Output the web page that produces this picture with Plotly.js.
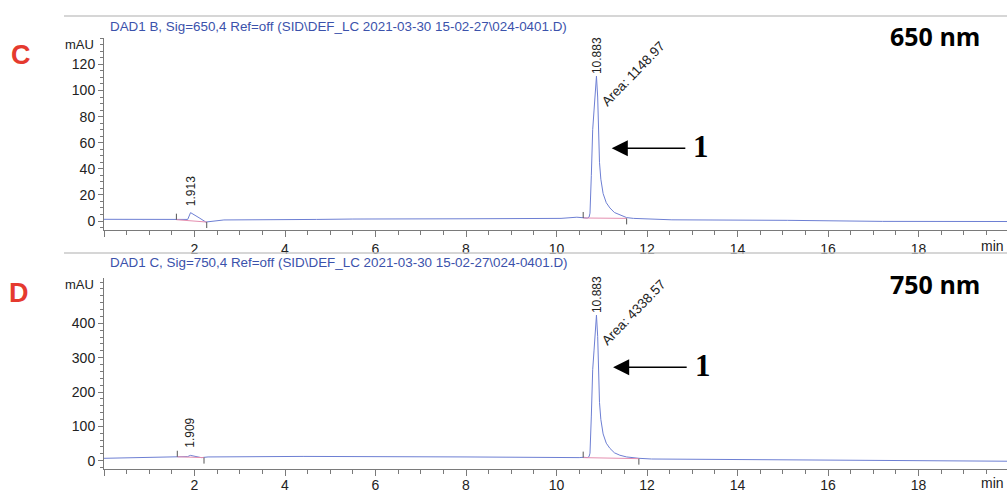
<!DOCTYPE html>
<html>
<head>
<meta charset="utf-8">
<script src="https://cdn.plot.ly/plotly-3.0.1.min.js"></script>
<style>
  html, body { margin: 0; padding: 0; background: #fff; overflow: hidden; }
  #chart { width: 1007px; height: 492px; }
</style>
</head>
<body>
<div id="chart"></div>
<script>
// ---- DAD1 B, 650 nm: retention time (min) / absorbance (mAU) ----
const timeB = [0, 0.55, 1.0, 1.5, 1.6, 1.85, 1.913, 1.98, 2.1, 2.25, 2.4, 2.65, 4.7, 5.5, 8.0, 10.1,
  10.45, 10.6, 10.68, 10.72, 10.74, 10.77, 10.80, 10.83, 10.86, 10.883, 10.91, 10.93, 10.95, 10.98,
  11.03, 11.10, 11.18, 11.28, 11.40, 11.55, 11.70, 12.0, 12.55, 15.1, 16.3, 17.2, 20];
const signalB = [1.3, 1.2, 0.9, 0.9, 1.0, 1.2, 6.4, 4.8, 2.5, -0.8, 0.0, 0.8, 1.2, 1.5, 1.7, 2.0,
  2.9, 2.5, 2.2, 3.0, 6, 35, 70, 85, 102, 111, 95, 70, 45, 32,
  21, 14, 10, 6.5, 4.6, 2.6, 2.0, 1.6, 0.9, 0.5, 0.0, -0.3, -0.4];

// ---- DAD1 C, 750 nm ----
const timeC = [0, 1.0, 1.6, 1.85, 1.909, 1.98, 2.15, 2.3, 4.4, 8.0, 9.5, 10.3, 10.5, 10.6, 10.68,
  10.72, 10.74, 10.77, 10.80, 10.83, 10.86, 10.883, 10.91, 10.93, 10.95, 10.98, 11.03, 11.10, 11.18,
  11.28, 11.40, 11.55, 11.70, 11.82, 12.1, 14.5, 16.5, 17.3, 20];
const signalC = [7, 10, 11.5, 12, 15.5, 13, 9, 11, 12.5, 11, 9, 8, 9, 10, 9,
  12, 22, 130, 265, 322, 387, 424, 362, 266, 170, 120, 78, 51, 36,
  23, 16, 11, 8, 7, 5, 3, 0.5, -1, -1.5];

// ---- integration results ----
const peakRtB = [1.913, 10.883];
const peakAreaB = [null, 1148.97];
const peakRtC = [1.909, 10.883];
const peakAreaC = [null, 4338.57];

// integration start/end events: time, level (mAU), marker direction
const eventTimeB = [1.60, 2.27, 10.59, 11.55];
const eventLevelB = [1.0, -0.8, 2.3, 2.0];
const eventTimeC = [1.62, 2.21, 10.59, 11.82];
const eventLevelC = [11.5, 9.0, 9.0, 6.0];
const eventDir = [1, -1, 1, -1];

// axis labels
const xTickVals = [0, 2, 4, 6, 8, 10, 12, 14, 16, 18];
const yTickValsB = [0, 20, 40, 60, 80, 100, 120];
const yTickValsC = [0, 100, 200, 300, 400];

// ---- geometry ----
const W = 1007, H = 492;
const ML = 104;
const PXPERMIN = 45.25;
const xMax = (W - ML) / PXPERMIN;
const rangeB = [-6.9, 140];
const rangeC = [-25, 532];
const domB = [1 - 230 / H, 1 - 38.3 / H];
const domC = [1 - 469.3 / H, 1 - 278 / H];

const FONT = 'Arial, "Liberation Sans", sans-serif';
const LINE = '#6d7fd3';
const PINK = '#e58fb0';
const AXIS = '#7a7a7a';
const TITLE_BLUE = '#3b52ab';

function unitsPerPx(range, dom) {
  return (range[1] - range[0]) / ((dom[1] - dom[0]) * H);
}

function steps(a, b, s) {
  const out = [];
  for (let v = a; v <= b + 1e-9; v += s) out.push(+v.toFixed(3));
  return out;
}

function baselineTrace(times, levels, xa, ya) {
  return {
    x: [times[0], times[1], null, times[2], times[3]],
    y: [levels[0], levels[1], null, levels[2], levels[3]],
    xaxis: xa, yaxis: ya, mode: 'lines', hoverinfo: 'skip',
    line: { color: PINK, width: 1 }, showlegend: false
  };
}

function eventTrace(times, levels, upp, xa, ya) {
  const x = [], y = [];
  const len = 6 * upp;
  times.forEach((t, i) => {
    x.push(t, t, null);
    y.push(levels[i], levels[i] + eventDir[i] * len, null);
  });
  return {
    x, y, xaxis: xa, yaxis: ya, mode: 'lines', hoverinfo: 'skip',
    line: { color: '#555', width: 1 }, showlegend: false
  };
}

const uppB = unitsPerPx(rangeB, domB);
const uppC = unitsPerPx(rangeC, domC);

const traces = [
  { x: timeB, y: signalB, xaxis: 'x', yaxis: 'y', mode: 'lines',
    line: { color: LINE, width: 1 }, showlegend: false },
  baselineTrace(eventTimeB, eventLevelB, 'x', 'y'),
  eventTrace(eventTimeB, eventLevelB, uppB, 'x', 'y'),
  { x: timeC, y: signalC, xaxis: 'x2', yaxis: 'y2', mode: 'lines',
    line: { color: LINE, width: 1 }, showlegend: false },
  baselineTrace(eventTimeC, eventLevelC, 'x2', 'y2'),
  eventTrace(eventTimeC, eventLevelC, uppC, 'x2', 'y2')
];

function xAxis(anchor, standoff) {
  return {
    domain: [0, 1], anchor: anchor, range: [0, xMax],
    showgrid: false, zeroline: false, showline: true, linecolor: AXIS, linewidth: 1,
    tickmode: 'array', tickvals: xTickVals,
    ticktext: xTickVals.map(v => v === 0 ? '' : String(v)),
    ticks: 'outside', ticklen: 6, tickcolor: AXIS, tickwidth: 1,
    ticklabelstandoff: standoff,
    minor: { tickmode: 'array', tickvals: steps(0.5, 19.5, 0.5), ticks: 'outside', ticklen: 4, tickcolor: AXIS, tickwidth: 1 },
    tickfont: { family: FONT, size: 14, color: '#222' },
    fixedrange: true
  };
}

function yAxis(anchor, range, dom, vals, minorVals) {
  return {
    domain: dom, anchor: anchor, range: range,
    showgrid: false, zeroline: false, showline: true, linecolor: AXIS, linewidth: 1,
    tickmode: 'array', tickvals: vals,
    ticks: 'outside', ticklen: 5, tickcolor: AXIS, tickwidth: 1,
    minor: { tickmode: 'array', tickvals: minorVals, ticks: 'outside', ticklen: 3, tickcolor: AXIS, tickwidth: 1 },
    tickfont: { family: FONT, size: 14, color: '#222' },
    fixedrange: true
  };
}

const px2paperX = px => (px - ML) / (W - ML);
const py2paper = py => 1 - py / H;

function apexOf(times, values, rt) {
  let best = 0;
  times.forEach((t, i) => { if (Math.abs(t - rt) < Math.abs(times[best] - rt)) best = i; });
  return values[best];
}

function peakAnnotations(rts, areas, times, values, xa, ya, gaps) {
  const out = [];
  rts.forEach((rt, i) => {
    const h = apexOf(times, values, rt);
    out.push({
      xref: xa, yref: ya, x: rt, y: h, text: rt.toFixed(3), showarrow: false,
      textangle: -90, xanchor: 'center', yanchor: 'bottom', yshift: gaps[i],
      font: { family: FONT, size: 12, color: '#222' }
    });
    if (areas[i] !== null) {
      out.push({
        xref: xa, yref: ya, x: rt, y: h, text: 'Area: ' + areas[i].toFixed(2), showarrow: false,
        textangle: -46, xanchor: 'center', yanchor: 'middle', xshift: 37, yshift: 3,
        font: { family: FONT, size: 13.5, color: '#222' }
      });
    }
  });
  return out;
}

const annotations = [
  // signal descriptions
  { xref: 'paper', yref: 'paper', x: px2paperX(108), y: py2paper(26), xanchor: 'left', yanchor: 'middle',
    text: 'DAD1 B, Sig=650,4 Ref=off (SID\\DEF_LC 2021-03-30 15-02-27\\024-0401.D)', showarrow: false,
    font: { family: FONT, size: 13.4, color: TITLE_BLUE } },
  { xref: 'paper', yref: 'paper', x: px2paperX(108), y: py2paper(262), xanchor: 'left', yanchor: 'middle',
    text: 'DAD1 C, Sig=750,4 Ref=off (SID\\DEF_LC 2021-03-30 15-02-27\\024-0401.D)', showarrow: false,
    font: { family: FONT, size: 13.4, color: TITLE_BLUE } },
  // unit labels
  { xref: 'paper', yref: 'paper', x: px2paperX(96), y: py2paper(45), xanchor: 'right', yanchor: 'middle',
    text: 'mAU', showarrow: false, font: { family: FONT, size: 13, color: '#222' } },
  { xref: 'paper', yref: 'paper', x: px2paperX(96), y: py2paper(284), xanchor: 'right', yanchor: 'middle',
    text: 'mAU', showarrow: false, font: { family: FONT, size: 13, color: '#222' } },
  { xref: 'paper', yref: 'paper', x: px2paperX(1006), y: py2paper(246), xanchor: 'right', yanchor: 'middle',
    text: 'min', showarrow: false, font: { family: FONT, size: 14, color: '#222' } },
  { xref: 'paper', yref: 'paper', x: px2paperX(1006), y: py2paper(483), xanchor: 'right', yanchor: 'middle',
    text: 'min', showarrow: false, font: { family: FONT, size: 14, color: '#222' } },
  // panel letters
  { xref: 'paper', yref: 'paper', x: px2paperX(21), y: py2paper(55), xanchor: 'center', yanchor: 'middle',
    text: '<b>C</b>', showarrow: false, font: { family: FONT, size: 27, color: '#e53a2f' } },
  { xref: 'paper', yref: 'paper', x: px2paperX(19), y: py2paper(293), xanchor: 'center', yanchor: 'middle',
    text: '<b>D</b>', showarrow: false, font: { family: FONT, size: 27, color: '#e53a2f' } },
  // wavelengths
  { xref: 'paper', yref: 'paper', x: px2paperX(935), y: py2paper(36), xanchor: 'center', yanchor: 'middle',
    text: '<b>650 nm</b>', showarrow: false, font: { family: '"Open Sans", sans-serif', size: 25, color: '#000' } },
  { xref: 'paper', yref: 'paper', x: px2paperX(935), y: py2paper(284), xanchor: 'center', yanchor: 'middle',
    text: '<b>750 nm</b>', showarrow: false, font: { family: '"Open Sans", sans-serif', size: 25, color: '#000' } },
  // peak 1 arrows and numbers
  { xref: 'x', yref: 'y', x: 11.22, y: 55.7, axref: 'x', ayref: 'y', ax: 12.88, ay: 55.7, text: '',
    showarrow: true, arrowhead: 2, arrowsize: 2.3, arrowwidth: 1.4, arrowcolor: '#000' },
  { xref: 'x', yref: 'y', x: 13.19, y: 57.4, text: '<b>1</b>', showarrow: false, xanchor: 'center', yanchor: 'middle',
    font: { family: '"Liberation Serif", "Times New Roman", serif', size: 31, color: '#000' } },
  { xref: 'x2', yref: 'y2', x: 11.25, y: 272, axref: 'x2', ayref: 'y2', ax: 12.91, ay: 272, text: '',
    showarrow: true, arrowhead: 2, arrowsize: 2.3, arrowwidth: 1.4, arrowcolor: '#000' },
  { xref: 'x2', yref: 'y2', x: 13.23, y: 278.6, text: '<b>1</b>', showarrow: false, xanchor: 'center', yanchor: 'middle',
    font: { family: '"Liberation Serif", "Times New Roman", serif', size: 31, color: '#000' } }
].concat(
  peakAnnotations(peakRtB, peakAreaB, timeB, signalB, 'x', 'y', [4, 0]),
  peakAnnotations(peakRtC, peakAreaC, timeC, signalC, 'x2', 'y2', [6, 0])
);

const shapes = [
  { type: 'line', xref: 'paper', yref: 'paper', x0: px2paperX(64), x1: 1, y0: py2paper(16), y1: py2paper(16),
    line: { color: '#c8c8c8', width: 1.5 } },
  { type: 'line', xref: 'paper', yref: 'paper', x0: px2paperX(64), x1: 1, y0: py2paper(253), y1: py2paper(253),
    line: { color: '#c8c8c8', width: 1.5 } }
];

const layout = {
  width: W, height: H,
  margin: { l: ML, r: 0, t: 0, b: 0, pad: 0 },
  paper_bgcolor: '#fff', plot_bgcolor: '#fff',
  showlegend: false,
  xaxis: xAxis('y', 0),
  yaxis: yAxis('x', rangeB, domB, yTickValsB, steps(-5, 140, 5)),
  xaxis2: xAxis('y2', -3),
  yaxis2: yAxis('x2', rangeC, domC, yTickValsC, steps(-20, 520, 20)),
  annotations: annotations,
  shapes: shapes
};

Plotly.newPlot('chart', traces, layout, { staticPlot: true, displayModeBar: false });
</script>
</body>
</html>
